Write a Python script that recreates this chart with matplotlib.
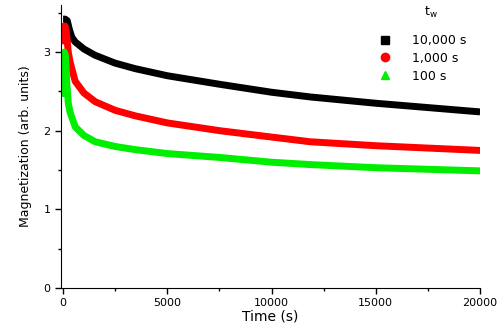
import numpy as np
import matplotlib.pyplot as plt
from matplotlib.lines import Line2D
from matplotlib.ticker import MultipleLocator

# Datos (tiempo en s, magnetizacion en u.a.)
t_10000 = [0, 100, 200, 300, 420, 580, 1000, 1540, 2500, 3460, 5000, 7540, 10000, 11860, 15000, 20000]
m_10000 = [3.42, 3.42, 3.40, 3.29, 3.19, 3.13, 3.04, 2.96, 2.86, 2.79, 2.70, 2.59, 2.49, 2.43, 2.35, 2.24]

t_1000 = [0, 30, 100, 180, 250, 340, 580, 1000, 1540, 2500, 3460, 5000, 7540, 10000, 11860, 15000, 20000]
m_1000 = [3.1, 3.33, 3.33, 3.2, 3.0, 2.87, 2.63, 2.48, 2.37, 2.26, 2.19, 2.1, 2.0, 1.92, 1.86, 1.81, 1.75]

t_100 = [0, 20, 60, 120, 180, 250, 340, 580, 1000, 1540, 2500, 3460, 5000, 7540, 10000, 11860, 15000, 20000]
m_100 = [2.43, 2.9, 3.0, 2.95, 2.6, 2.35, 2.23, 2.05, 1.94, 1.86, 1.8, 1.76, 1.71, 1.66, 1.6, 1.57, 1.53, 1.49]

labels = ['10,000 s', '1,000 s', '100 s']
colores = ['#000000', '#ff0000', '#00ee00']
marcadores = ['s', 'o', '^']

fig = plt.figure(figsize=(4.98, 3.32), dpi=100)
ax = fig.add_axes([0.1225, 0.1325, 0.8415, 0.8525])

for t, m, c in zip([t_10000, t_1000, t_100], [m_10000, m_1000, m_100], colores):
    ax.plot(t, m, color=c, lw=5, solid_capstyle='butt', solid_joinstyle='round')

ax.set_xlim(-100, 20000)
ax.set_ylim(0, 3.6)
ax.xaxis.set_major_locator(MultipleLocator(5000))
ax.xaxis.set_minor_locator(MultipleLocator(2500))
ax.yaxis.set_major_locator(MultipleLocator(1))
ax.yaxis.set_minor_locator(MultipleLocator(0.5))
ax.tick_params(which='major', direction='out', length=4, width=1, labelsize=8)
ax.tick_params(which='minor', direction='out', length=2.5, width=1)
ax.spines['top'].set_visible(False)
ax.spines['right'].set_visible(False)
ax.set_xlabel('Time (s)', fontsize=10, labelpad=1)
ax.set_ylabel('Magnetization (arb. units)', fontsize=9, labelpad=8)

# Leyenda con marcadores
handles = [Line2D([], [], ls='none', marker=m, color=c, markersize=6)
           for m, c in zip(marcadores, colores)]
ax.legend(handles, labels, frameon=False, fontsize=9,
          loc='upper right', bbox_to_anchor=(0.98, 0.915),
          handletextpad=1.2, labelspacing=0.38, borderaxespad=0.0)
fig.text(431 / 498, 1 - 12 / 332, 't$_\\mathregular{w}$', fontsize=9, ha='center', va='center')

fig.savefig('out.png', dpi=100)
